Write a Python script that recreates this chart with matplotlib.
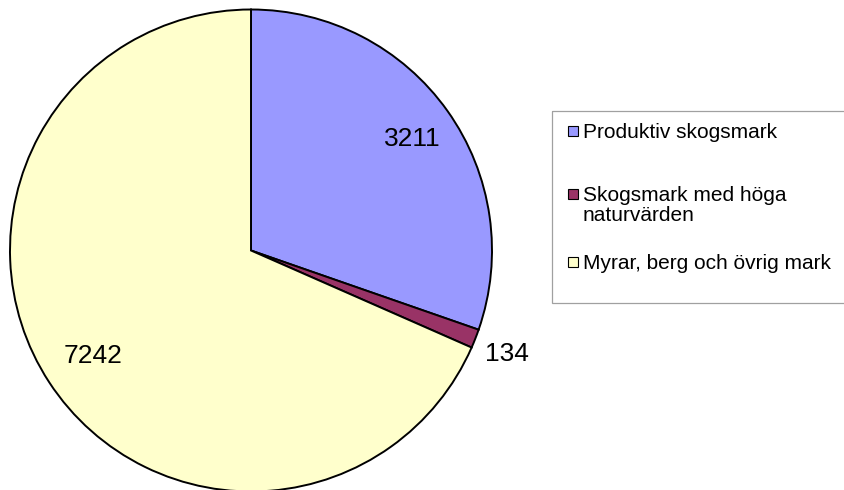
import matplotlib
matplotlib.use('Agg')
import matplotlib.pyplot as plt
from matplotlib.patches import Rectangle
import numpy as np

plt.rcParams['font.family'] = ['Liberation Sans', 'DejaVu Sans']

# Data
categories = ['Produktiv skogsmark', 'Skogsmark med höga\nnaturvärden', 'Myrar, berg och övrig mark']
values = [3211, 134, 7242]
colors = ['#9999FF', '#993366', '#FFFFCC']

# how far out each value label sits (fraction of radius)
label_dist = [0.82, 1.14, 0.785]

W, H = 845, 490
fig = plt.figure(figsize=(W / 100, H / 100), dpi=100)

# Pie axes in pixel units (y up)
ax = fig.add_axes([0, 0, 1, 1])
cx, cy, r = 251, H - 250.5, 241
wedges, _ = ax.pie(values, colors=colors, startangle=90, counterclock=False,
                   center=(cx, cy), radius=r,
                   wedgeprops=dict(edgecolor='black', linewidth=1.4))
ax.set_xlim(0, W)
ax.set_ylim(0, H)
ax.set_aspect('equal')
ax.axis('off')

for w, v, d in zip(wedges, values, label_dist):
    ang = np.deg2rad((w.theta1 + w.theta2) / 2)
    ax.text(cx + d * r * np.cos(ang), cy + d * r * np.sin(ang), str(v),
            ha='center', va='center_baseline', fontsize=19)

# Legend drawn by hand (pixel coords, y down)
lg = fig.add_axes([0, 0, 1, 1])
lg.set_xlim(0, W)
lg.set_ylim(H, 0)
lg.axis('off')
lg.patch.set_alpha(0)
lg.add_patch(Rectangle((552, 110.5), 400, 192, facecolor='none',
                       edgecolor='#A0A0A0', linewidth=0.9))

marker_y = [131, 194.3, 262]
baselines = [137.7, 200.7, 268.5]
for lab, col, my, by in zip(categories, colors, marker_y, baselines):
    lg.add_patch(Rectangle((568, my - 5), 10, 10, facecolor=col,
                           edgecolor='black', linewidth=0.8))
    for i, line in enumerate(lab.split('\n')):
        lg.text(583, by + i * 20.5, line, ha='left', va='baseline', fontsize=15)

fig.savefig('out.png', dpi=100)
